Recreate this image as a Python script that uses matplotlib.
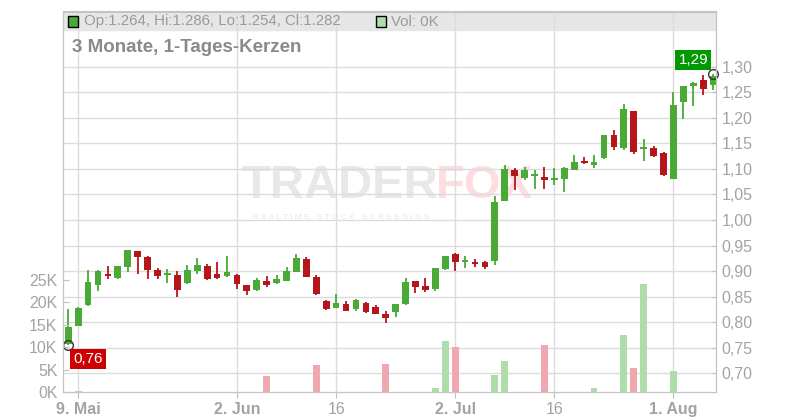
import matplotlib
matplotlib.use("Agg")
import matplotlib.pyplot as plt
from matplotlib.patches import Rectangle

plt.rcParams['font.family'] = ['Liberation Sans', 'DejaVu Sans']

# daily candles, 8 May .. 7 Aug (one entry per trading day)
opens = [0.758, 0.792, 0.834, 0.873, 0.893, 0.887, 0.909, 0.939, 0.928, 0.902,
         0.893, 0.892, 0.876, 0.900, 0.910, 0.894, 0.891, 0.892, 0.873, 0.863,
         0.881, 0.876, 0.881, 0.899, 0.924, 0.888, 0.842, 0.828, 0.836, 0.826,
         0.838, 0.830, 0.816, 0.820, 0.836, 0.881, 0.871, 0.865, 0.904, 0.933,
         0.918, 0.915, 0.918, 0.920, 1.037, 1.098, 1.082, 1.086, 1.084, 1.078,
         1.080, 1.098, 1.114, 1.107, 1.121, 1.166, 1.140, 1.213, 1.138, 1.141,
         1.131, 1.081, 1.230, 1.263, 1.274, 1.264]
highs = [0.826, 0.829, 0.902, 0.902, 0.910, 0.910, 0.941, 0.939, 0.930, 0.906,
         0.904, 0.900, 0.912, 0.925, 0.914, 0.918, 0.930, 0.894, 0.873, 0.887,
         0.891, 0.893, 0.908, 0.934, 0.928, 0.892, 0.844, 0.855, 0.842, 0.846,
         0.840, 0.834, 0.822, 0.836, 0.887, 0.881, 0.887, 0.906, 0.930, 0.936,
         0.930, 0.924, 0.920, 1.047, 1.108, 1.102, 1.104, 1.098, 1.104, 1.102,
         1.104, 1.127, 1.123, 1.127, 1.166, 1.176, 1.227, 1.213, 1.158, 1.145,
         1.134, 1.250, 1.262, 1.270, 1.283, 1.286]
lows = [0.756, 0.792, 0.832, 0.862, 0.885, 0.885, 0.898, 0.895, 0.885, 0.885,
        0.877, 0.850, 0.875, 0.895, 0.883, 0.885, 0.889, 0.866, 0.854, 0.861,
        0.869, 0.874, 0.881, 0.899, 0.889, 0.854, 0.824, 0.828, 0.822, 0.822,
        0.818, 0.816, 0.799, 0.810, 0.834, 0.858, 0.860, 0.862, 0.903, 0.900,
        0.906, 0.908, 0.904, 0.912, 1.037, 1.058, 1.078, 1.061, 1.061, 1.068,
        1.055, 1.098, 1.109, 1.101, 1.120, 1.137, 1.137, 1.129, 1.116, 1.124,
        1.086, 1.080, 1.198, 1.224, 1.245, 1.254]
closes = [0.791, 0.828, 0.879, 0.900, 0.891, 0.910, 0.941, 0.928, 0.903, 0.891,
          0.894, 0.864, 0.902, 0.912, 0.885, 0.887, 0.898, 0.875, 0.862, 0.883,
          0.873, 0.885, 0.900, 0.926, 0.889, 0.856, 0.826, 0.838, 0.822, 0.844,
          0.820, 0.816, 0.809, 0.836, 0.879, 0.868, 0.863, 0.906, 0.929, 0.918,
          0.920, 0.913, 0.908, 1.035, 1.100, 1.086, 1.098, 1.088, 1.079, 1.080,
          1.102, 1.113, 1.112, 1.113, 1.166, 1.142, 1.217, 1.134, 1.140, 1.126,
          1.088, 1.225, 1.262, 1.268, 1.256, 1.282]
volumes = [0, 200, 0, 0, 0, 0, 0, 0, 0, 0,
           0, 0, 0, 0, 0, 0, 0, 0, 0, 0,
           3600, 0, 0, 0, 0, 6000, 0, 0, 0, 0,
           0, 0, 6200, 0, 0, 0, 0, 900, 11400, 10000,
           0, 0, 0, 3800, 6900, 0, 0, 0, 10500, 0,
           0, 0, 0, 900, 0, 0, 12700, 5300, 24100, 0,
           0, 4700, 0, 0, 0, 0]

date_ticks = [1, 17, 27, 39, 49, 61]
date_labels = ["9. Mai", "2. Jun", "16", "2. Jul", "16", "1. Aug"]
price_ticks = [0.70, 0.75, 0.80, 0.85, 0.90, 0.95, 1.00, 1.05, 1.10, 1.15, 1.20, 1.25, 1.30]
vol_ticks = [0, 5000, 10000, 15000, 20000, 25000]

green = '#49ab35'
red = '#b5161b'
vgreen = '#aedcaa'
vred = '#f0a8b0'
grey_txt = '#a3a3a3'

fig = plt.figure(figsize=(8, 4.2), dpi=100)
ax = fig.add_axes([63/800, 28/420, 653/800, 380.5/420])
axv = ax.twinx()

# background header band + watermark (kept under the candles)
ax.add_patch(Rectangle((0, 0.9514), 1, 0.0486, transform=ax.transAxes,
                       color='#e6e6e6', zorder=0.1))
ax.text(0.425, 0.557, "TRADER", fontsize=34, fontweight='bold', color='#e8e8e8',
        ha='center', va='center', zorder=0.2, transform=fig.transFigure)
ax.text(0.605, 0.557, "FOX", fontsize=34, fontweight='bold', color='#fcdde0',
        ha='center', va='center', zorder=0.2, transform=fig.transFigure)
ax.text(0.427, 0.481, "R E A L T I M E   S T O C K   S C R E E N I N G", fontsize=6,
        color='#e6e6e6', ha='center', va='center', zorder=0.2, transform=fig.transFigure)

n = len(opens)
idx = list(range(n))
up = [closes[i] >= opens[i] for i in idx]
colors = [green if u else red for u in up]
vcolors = [vgreen if u else vred for u in up]

# volume bars
axv.bar(idx, volumes, width=0.68, color=vcolors, zorder=2)

# candles
ax.vlines(idx, lows, highs, colors=colors, linewidth=1.3, zorder=3)
bottoms = [min(opens[i], closes[i]) for i in idx]
heights = [max(abs(closes[i] - opens[i]), 0.004) for i in idx]
ax.bar(idx, heights, bottom=bottoms, width=0.68, color=colors, zorder=4)

ax.set_xlim(-0.53, 65.29)
ax.set_ylim(0.6635, 1.408)
axv.set_ylim(0, 84850)

ax.set_axisbelow(True)
ax.set_yticks(price_ticks)
ax.set_yticklabels([f"{p:.2f}".replace('.', ',') for p in price_ticks])
ax.set_xticks(date_ticks)
ax.set_xticklabels(date_labels)
for lab, t in zip(ax.get_xticklabels(), date_labels):
    if not t.isdigit():
        lab.set_fontweight('bold')
ax.grid(True, color='#dcdcdc', linewidth=1, zorder=0.5)
ax.yaxis.set_ticks_position('right')
ax.tick_params(axis='y', colors='#c0c0c0', labelcolor=grey_txt, labelsize=11.5,
               direction='in', length=3, pad=4)
ax.tick_params(axis='x', colors='#c0c0c0', labelcolor=grey_txt, labelsize=11.5,
               direction='out', length=4, pad=3)

axv.set_yticks(vol_ticks)
axv.set_yticklabels([f"{v // 1000}K" for v in vol_ticks])
axv.yaxis.set_ticks_position('left')
axv.tick_params(axis='y', colors='#c0c0c0', labelcolor=grey_txt, labelsize=11.5,
                direction='in', length=4, pad=4)

for a in (ax, axv):
    for s in a.spines.values():
        s.set_color('#c4c4c4')

# high / low markers
hi_i = highs.index(max(highs))
lo_i = lows.index(min(lows))
ax.plot([hi_i], [highs[hi_i]], 'o', ms=7, mfc='none', mec='#333333', mew=1, zorder=6, clip_on=False)
ax.plot([lo_i], [lows[lo_i]], 'o', ms=7, mfc='none', mec='#333333', mew=1, zorder=6, clip_on=False)
ax.annotate(f"{max(highs):.2f}".replace('.', ','), (hi_i, highs[hi_i]), xytext=(-5, 7),
            textcoords='offset pixels', ha='right', va='bottom', color='white', fontsize=11,
            bbox=dict(boxstyle='square,pad=0.2', fc='#009a00', ec='none'), zorder=7)
ax.annotate(f"{min(lows):.2f}".replace('.', ','), (lo_i, lows[lo_i]), xytext=(5, -7),
            textcoords='offset pixels', ha='left', va='top', color='white', fontsize=11,
            bbox=dict(boxstyle='square,pad=0.2', fc='#cc0000', ec='none'), zorder=7)

# legend line and title
fig.patches.append(Rectangle((68/800, 1 - 26.5/420), 10/800, 10/420, transform=fig.transFigure,
                             fc=green, ec='black', lw=1))
fig.text(84/800, 1 - 21.5/420,
         f"Op:{opens[-1]:.3f}, Hi:{highs[-1]:.3f}, Lo:{lows[-1]:.3f}, Cl:{closes[-1]:.3f}",
         fontsize=10.8, color='#9a9a9a', va='center')
fig.patches.append(Rectangle((375.5/800, 1 - 26.5/420), 10/800, 10/420, transform=fig.transFigure,
                             fc=vgreen, ec='black', lw=1))
fig.text(391/800, 1 - 21.5/420, f"Vol: {volumes[-1] // 1000}K", fontsize=10.8,
         color='#9a9a9a', va='center')
fig.text(72/800, 1 - 47/420, "3 Monate, 1-Tages-Kerzen", fontsize=13.5, fontweight='bold',
         color='#8a8a8a', va='center')

fig.savefig("out.png", dpi=100)
